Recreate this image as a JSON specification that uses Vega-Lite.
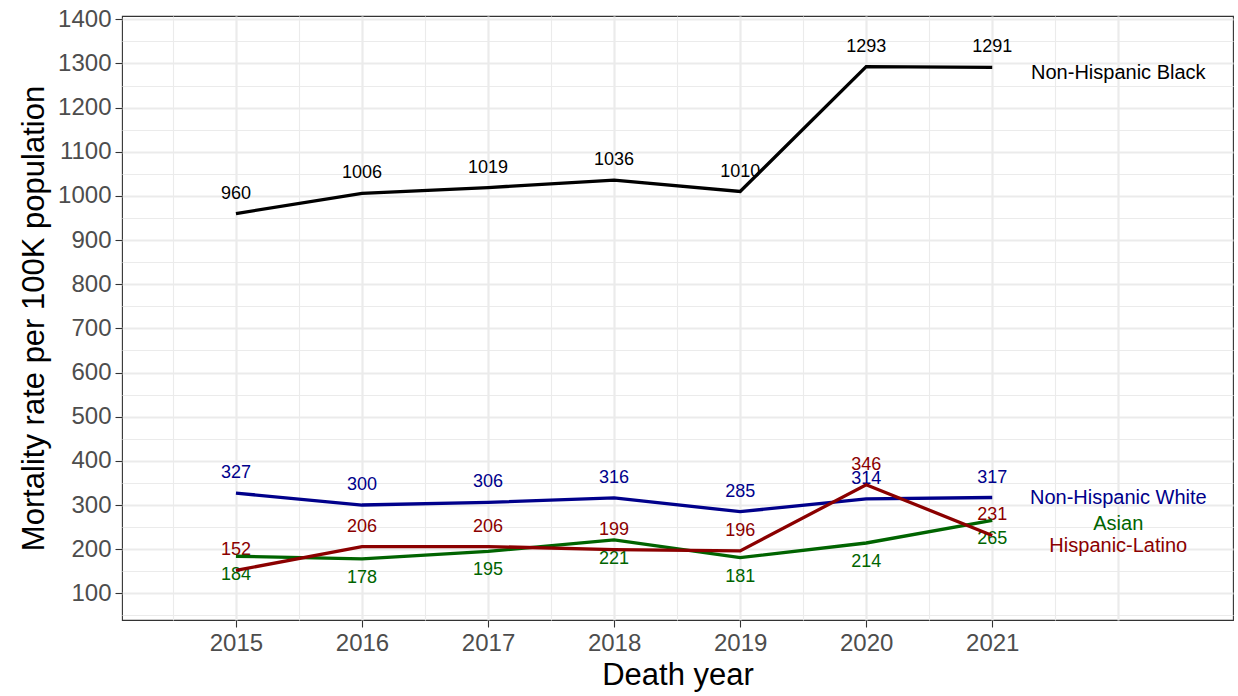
{
  "$schema": "https://vega.github.io/schema/vega-lite/v6.json",
  "autosize": {"type": "none"},
  "padding": {"left": 122, "top": 16, "right": 5, "bottom": 76},
  "width": 1111,
  "height": 604,
  "config": {
    "font": "Liberation Sans",
    "view": {"stroke": "#333333", "strokeWidth": 1.1},
    "axis": {"domain": false}
  },
  "datasets": {
    "rates": [
      {"year": 2015, "group": "Non-Hispanic Black", "rate": 960},
      {"year": 2016, "group": "Non-Hispanic Black", "rate": 1006},
      {"year": 2017, "group": "Non-Hispanic Black", "rate": 1019},
      {"year": 2018, "group": "Non-Hispanic Black", "rate": 1036},
      {"year": 2019, "group": "Non-Hispanic Black", "rate": 1010},
      {"year": 2020, "group": "Non-Hispanic Black", "rate": 1293},
      {"year": 2021, "group": "Non-Hispanic Black", "rate": 1291},
      {"year": 2015, "group": "Non-Hispanic White", "rate": 327},
      {"year": 2016, "group": "Non-Hispanic White", "rate": 300},
      {"year": 2017, "group": "Non-Hispanic White", "rate": 306},
      {"year": 2018, "group": "Non-Hispanic White", "rate": 316},
      {"year": 2019, "group": "Non-Hispanic White", "rate": 285},
      {"year": 2020, "group": "Non-Hispanic White", "rate": 314},
      {"year": 2021, "group": "Non-Hispanic White", "rate": 317},
      {"year": 2015, "group": "Asian", "rate": 184},
      {"year": 2016, "group": "Asian", "rate": 178},
      {"year": 2017, "group": "Asian", "rate": 195},
      {"year": 2018, "group": "Asian", "rate": 221},
      {"year": 2019, "group": "Asian", "rate": 181},
      {"year": 2020, "group": "Asian", "rate": 214},
      {"year": 2021, "group": "Asian", "rate": 265},
      {"year": 2015, "group": "Hispanic-Latino", "rate": 152},
      {"year": 2016, "group": "Hispanic-Latino", "rate": 206},
      {"year": 2017, "group": "Hispanic-Latino", "rate": 206},
      {"year": 2018, "group": "Hispanic-Latino", "rate": 199},
      {"year": 2019, "group": "Hispanic-Latino", "rate": 196},
      {"year": 2020, "group": "Hispanic-Latino", "rate": 346},
      {"year": 2021, "group": "Hispanic-Latino", "rate": 231}
    ],
    "series": [
      {"year": 2022, "group": "Non-Hispanic Black", "rate": 1278},
      {"year": 2022, "group": "Non-Hispanic White", "rate": 317},
      {"year": 2022, "group": "Asian", "rate": 258},
      {"year": 2022, "group": "Hispanic-Latino", "rate": 208}
    ]
  },
  "encoding": {
    "x": {
      "field": "year", "type": "quantitative",
      "scale": {"domain": [2014.096, 2022.91], "nice": false, "zero": false},
      "axis": {
        "values": [2014.5, 2015, 2015.5, 2016, 2016.5, 2017, 2017.5, 2018, 2018.5, 2019, 2019.5, 2020, 2020.5, 2021, 2021.5, 2022],
        "title": "Death year",
        "titleFontSize": 31, "titleFontWeight": "normal", "titleColor": "#000000", "titlePadding": 5,
        "labelExpr": "(abs(datum.value - round(datum.value)) < 0.01 && datum.value > 2014.9 && datum.value < 2021.1) ? format(datum.value, 'd') : ''",
        "labelOverlap": false,
        "labelFontSize": 24, "labelColor": "#4D4D4D", "labelPadding": 4,
        "grid": true, "gridColor": "#EBEBEB",
        "gridWidth": {"condition": {"test": "abs(datum.value - round(datum.value)) < 0.01", "value": 2.2}, "value": 1.1},
        "tickColor": "#333333", "tickSize": 7, "tickWidth": 1.1,
        "tickOpacity": {"condition": {"test": "abs(datum.value - round(datum.value)) < 0.01 && datum.value > 2014.9 && datum.value < 2021.1", "value": 1}, "value": 0}
      }
    },
    "y": {
      "field": "rate", "type": "quantitative",
      "scale": {"domain": [39.6, 1407.5], "nice": false, "zero": false},
      "axis": {
        "values": [50, 100, 150, 200, 250, 300, 350, 400, 450, 500, 550, 600, 650, 700, 750, 800, 850, 900, 950, 1000, 1050, 1100, 1150, 1200, 1250, 1300, 1350, 1400],
        "title": "Mortality rate per 100K population",
        "titleFontSize": 31, "titleFontWeight": "normal", "titleColor": "#000000", "titlePadding": 7,
        "labelExpr": "datum.value % 100 === 0 ? datum.label : ''",
        "labelOverlap": false,
        "format": "d",
        "labelFontSize": 24, "labelColor": "#4D4D4D", "labelPadding": 4,
        "grid": true, "gridColor": "#EBEBEB",
        "gridWidth": {"condition": {"test": "datum.value % 100 === 0", "value": 2.2}, "value": 1.1},
        "tickColor": "#333333", "tickSize": 7, "tickWidth": 1.1,
        "tickOpacity": {"condition": {"test": "datum.value % 100 === 0", "value": 1}, "value": 0}
      }
    },
    "color": {
      "field": "group", "type": "nominal",
      "scale": {
        "domain": ["Non-Hispanic Black", "Non-Hispanic White", "Asian", "Hispanic-Latino"],
        "range": ["#000000", "#00008B", "#006400", "#8B0000"]
      },
      "legend": null
    }
  },
  "layer": [
    {
      "data": {"name": "rates"},
      "transform": [{"filter": "datum.group !== 'Asian'"}],
      "mark": {"type": "text", "fontSize": 18, "dy": -20, "baseline": "middle", "align": "center"},
      "encoding": {"text": {"field": "rate", "type": "quantitative", "format": "d"}}
    },
    {
      "data": {"name": "rates"},
      "transform": [{"filter": "datum.group === 'Asian'"}],
      "mark": {"type": "text", "fontSize": 18, "dy": 19, "baseline": "middle", "align": "center"},
      "encoding": {"text": {"field": "rate", "type": "quantitative", "format": "d"}}
    },
    {
      "data": {"name": "rates"},
      "mark": {"type": "line", "strokeWidth": 3.3, "strokeJoin": "miter"},
      "encoding": {"detail": {"field": "group"}}
    },
    {
      "data": {"name": "series"},
      "mark": {"type": "text", "fontSize": 20, "baseline": "middle", "align": "center"},
      "encoding": {"text": {"field": "group", "type": "nominal"}}
    }
  ]
}
